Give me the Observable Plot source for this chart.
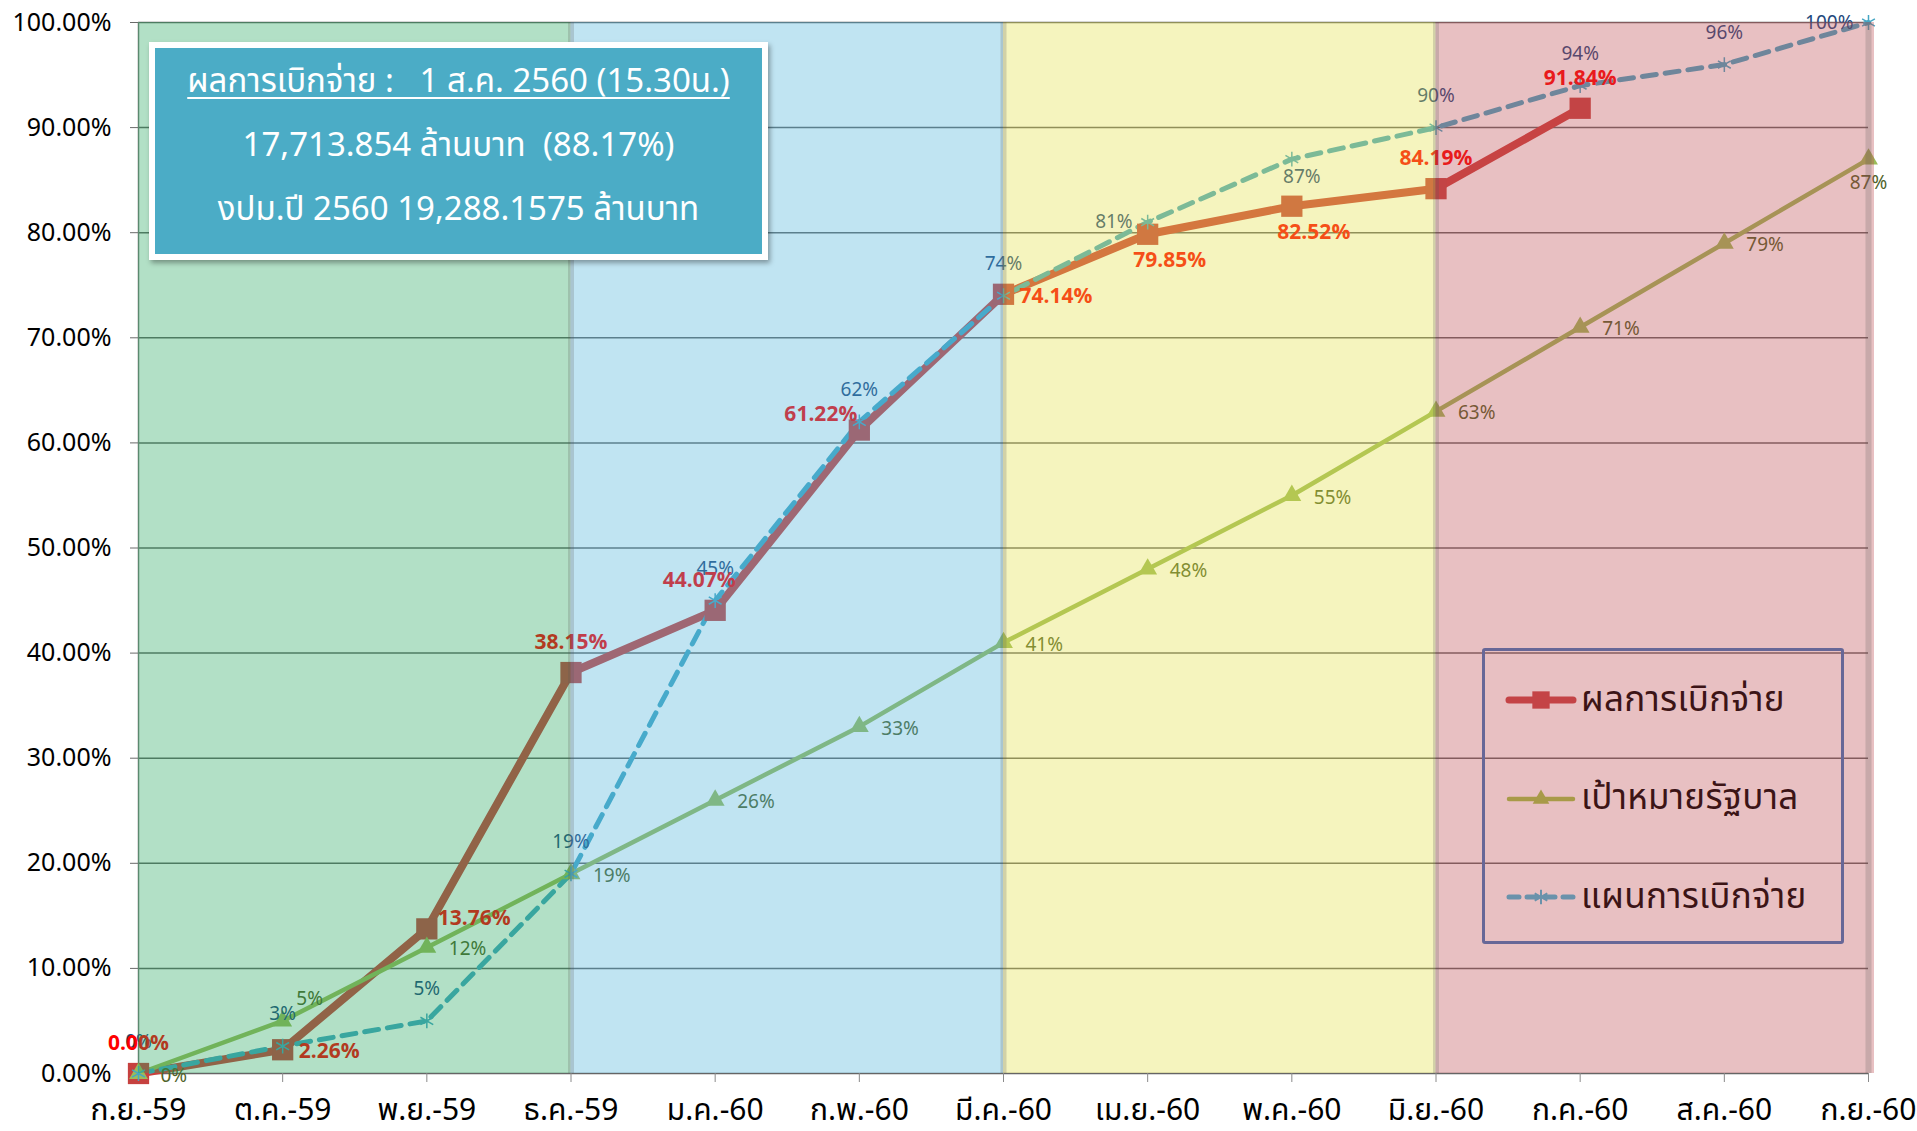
<!DOCTYPE html>
<html>
<head>
<meta charset="utf-8">
<script src="https://cdn.jsdelivr.net/npm/d3@7"></script>
<script src="https://cdn.jsdelivr.net/npm/@observablehq/plot@0.6"></script>
<style>
  html, body { margin: 0; padding: 0; background: #fff; overflow: hidden; }
  #wrap { position: relative; width: 1917px; height: 1131px; font-family: "Noto Sans Thai", "Noto Sans", "DejaVu Sans Condensed", sans-serif; }
  #info { position: absolute; left: 149px; top: 42px; width: 619px; height: 218px; box-sizing: border-box;
          border: 6px solid #fff; background: #4bacc6; box-shadow: 2px 3px 5px rgba(0,0,0,0.35);
          color: #fff; text-align: center; font-size: 33px; line-height: 64px; padding-top: 2px; }
  #info .u { text-decoration: underline; text-decoration-thickness: 2px; text-underline-offset: 5px; }
  #legend { position: absolute; left: 1482px; top: 648px; width: 362px; height: 296px; box-sizing: border-box;
            border: 3.5px solid #676797; border-radius: 3px; }
  #legend .row { position: absolute; left: 20px; height: 40px; display: flex; align-items: center; }
  #legend .row span { font-size: 35px; color: #3c1416; margin-left: 4px; letter-spacing: 0.3px; }
</style>
</head>
<body>
<div id="wrap">
  <div id="chart"></div>
  <div id="info"></div>
  <div id="legend"></div>
</div>
<script>
// ---- data ----
const months = ["ก.ย.-59","ต.ค.-59","พ.ย.-59","ธ.ค.-59","ม.ค.-60","ก.พ.-60","มี.ค.-60","เม.ย.-60","พ.ค.-60","มิ.ย.-60","ก.ค.-60","ส.ค.-60","ก.ย.-60"];
const seriesNames = ["ผลการเบิกจ่าย", "เป้าหมายรัฐบาล", "แผนการเบิกจ่าย"];
const actual = [0.00, 2.26, 13.76, 38.15, 44.07, 61.22, 74.14, 79.85, 82.52, 84.19, 91.84];
const target = [0, 5, 12, 19, 26, 33, 41, 48, 55, 63, 71, 79, 87];
const plan   = [0, 2.6, 5, 19, 45, 62, 74, 81, 87, 90, 94, 96, 100];
// label placement keywords (relative to each point)
const actualPlace = ["above","right","rightUp","above","aboveLeft","left","right","belowRight","belowRight","above","above"];
const targetPlace = ["right","aboveRight","right","right","right","right","right","right","right","right","right","right","below"];
const planPlace   = ["above","above","above","above","above","above","above","left","below","above","above","above","left"];
// colour bands (quarters)
const bandFrom = ["ก.ย.-59","ธ.ค.-59","มี.ค.-60","มิ.ย.-60"];
const bandTo   = ["ธ.ค.-59","มี.ค.-60","มิ.ย.-60","ก.ย.-60"];
const bandColor = ["#23a65c","#4bb2da","#e2e045","#bd4b51"];
const yTicks = [0,10,20,30,40,50,60,70,80,90,100];
const infoLines = ["ผลการเบิกจ่าย :   1 ส.ค. 2560 (15.30น.)", "17,713.854 ล้านบาท  (88.17%)", "งปม.ปี 2560 19,288.1575 ล้านบาท"];

// ---- build tables ----
const idx = m => months.indexOf(m);
const actualData = actual.map((v, i) => ({i, v, place: actualPlace[i], label: v.toFixed(2) + "%"}));
const targetData = target.map((v, i) => ({i, v, place: targetPlace[i], label: Math.round(v) + "%"}));
const planData   = plan.map((v, i) => ({i, v, place: planPlace[i], label: Math.round(v) + "%"}));
const bands = bandFrom.map((f, k) => ({x1: idx(f), x2: idx(bandTo[k]), color: bandColor[k], last: k === bandFrom.length - 1}));

const FONT = '"Noto Sans Thai", "Noto Sans", "DejaVu Sans Condensed", sans-serif';

// placement -> offsets
const P = {
  actual: {above:[0,-30,"middle"], aboveLeft:[-16,-30,"middle"], left:[-2,-16,"end"], right:[16,2,"start"], rightUp:[11,-11,"start"], belowRight:[22,26,"middle"]},
  target: {right:[22,2,"start"], aboveRight:[27,-22,"middle"], below:[0,24,"middle"]},
  plan:   {above:[0,-32,"middle"], left:[-15,0,"end"], below:[10,18,"middle"]}
};
function labels(data, key, opts) {
  const groups = d3.groups(data, d => d.place);
  return groups.map(([place, rows]) => {
    const [dx, dy, anchor] = P[key][place];
    return Plot.text(rows, {x: "i", y: "v", text: "label", dx, dy, textAnchor: anchor, ...opts});
  });
}

const chart = Plot.plot({
  width: 1917,
  height: 1131,
  marginLeft: 138,
  marginRight: 49,
  marginTop: 22,
  marginBottom: 58,
  style: {fontFamily: FONT, background: "transparent", overflow: "visible"},
  x: {domain: [0, months.length - 1], label: null},
  y: {domain: [0, 100], label: null},
  marks: [
    Plot.gridY(yTicks, {stroke: "#4a4a4a", strokeOpacity: 0.85, strokeWidth: 1.5}),
    Plot.ruleX([0], {stroke: "#7a7a7a", strokeWidth: 1.5}),
    Plot.axisY({ticks: yTicks, tickFormat: d => d.toFixed(2) + "%", tickSize: 8, tickPadding: 19, fontSize: 25, stroke: "#6a6a6a", fill: "#000", label: null}),
    Plot.axisX({ticks: d3.range(months.length), tickFormat: i => months[i], tickSize: 9, tickPadding: 16, fontSize: 30, stroke: "#8a8a8a", fill: "#000", label: null}),
    // series lines
    Plot.line(actualData, {x: "i", y: "v", stroke: "#cc3f3c", strokeWidth: 8, strokeLinejoin: "round"}),
    Plot.line(targetData, {x: "i", y: "v", stroke: "#9bbb59", strokeWidth: 4.5}),
    Plot.line(planData, {x: "i", y: "v", stroke: "#45a6c4", strokeWidth: 5, strokeDasharray: "14,9"}),
    Plot.dot(actualData, {x: "i", y: "v", symbol: "square", r: 12, fill: "#c6413f"}),
    Plot.dot(targetData, {x: "i", y: "v", symbol: "triangle", r: 7, fill: "#9bbb59"}),
    Plot.dot(planData, {x: "i", y: "v", symbol: "asterisk", r: 7, stroke: "#45a6c4", strokeWidth: 1.5}),
    ...labels(targetData, "target", {fill: "#4f6228", fontSize: 19}),
    ...labels(planData, "plan", {fill: "#1f497d", fontSize: 19}),
    ...labels(actualData, "actual", {fill: "#ff0000", fontSize: 21, fontWeight: "bold"}),
    // translucent quarter bands over everything
    Plot.rect(bands.filter(b => !b.last), {x1: "x1", x2: "x2", y1: 0, y2: 100, fill: "color", fillOpacity: 0.35}),
    Plot.rect(bands.filter(b => b.last), {x1: "x1", x2: "x2", y1: 0, y2: 100, fill: "color", fillOpacity: 0.35, insetRight: -6}),
    Plot.ruleX(bands, {x: "x2", y1: 0, y2: 100, stroke: "#555", strokeOpacity: 0.22, strokeWidth: 6})
  ]
});
document.getElementById("chart").appendChild(chart);

// info box
const info = document.getElementById("info");
infoLines.forEach((t, k) => {
  const d = document.createElement("div");
  d.textContent = t;
  if (k === 0) d.className = "u";
  d.style.whiteSpace = "pre";
  info.appendChild(d);
});

// legend
const legend = document.getElementById("legend");
const legendStyle = [
  {stroke: "#c44346", width: 7, dash: null, symbol: d3.symbolSquare, size: 300, fill: "#c44346"},
  {stroke: "#a89a48", width: 4.5, dash: null, symbol: d3.symbolTriangle, size: 120, fill: "#a89a48"},
  {stroke: "#6a92ab", width: 5, dash: "10,8", symbol: d3.symbolAsterisk, size: 150, fill: "none"}
];
seriesNames.forEach((name, k) => {
  const s = legendStyle[k];
  const row = document.createElement("div");
  row.className = "row";
  row.style.top = (29 + k * 98.5) + "px";
  const svg = d3.create("svg").attr("width", 72).attr("height", 40);
  svg.append("line").attr("x1", 4).attr("x2", 68).attr("y1", 20).attr("y2", 20)
    .attr("stroke", s.stroke).attr("stroke-width", s.width).attr("stroke-linecap", "round")
    .attr("stroke-dasharray", s.dash);
  svg.append("path").attr("transform", "translate(36,20)").attr("d", d3.symbol(s.symbol, s.size)())
    .attr("fill", s.fill).attr("stroke", s.fill === "none" ? s.stroke : "none").attr("stroke-width", 2);
  row.appendChild(svg.node());
  const sp = document.createElement("span");
  sp.textContent = name;
  row.appendChild(sp);
  legend.appendChild(row);
});
</script>
</body>
</html>
